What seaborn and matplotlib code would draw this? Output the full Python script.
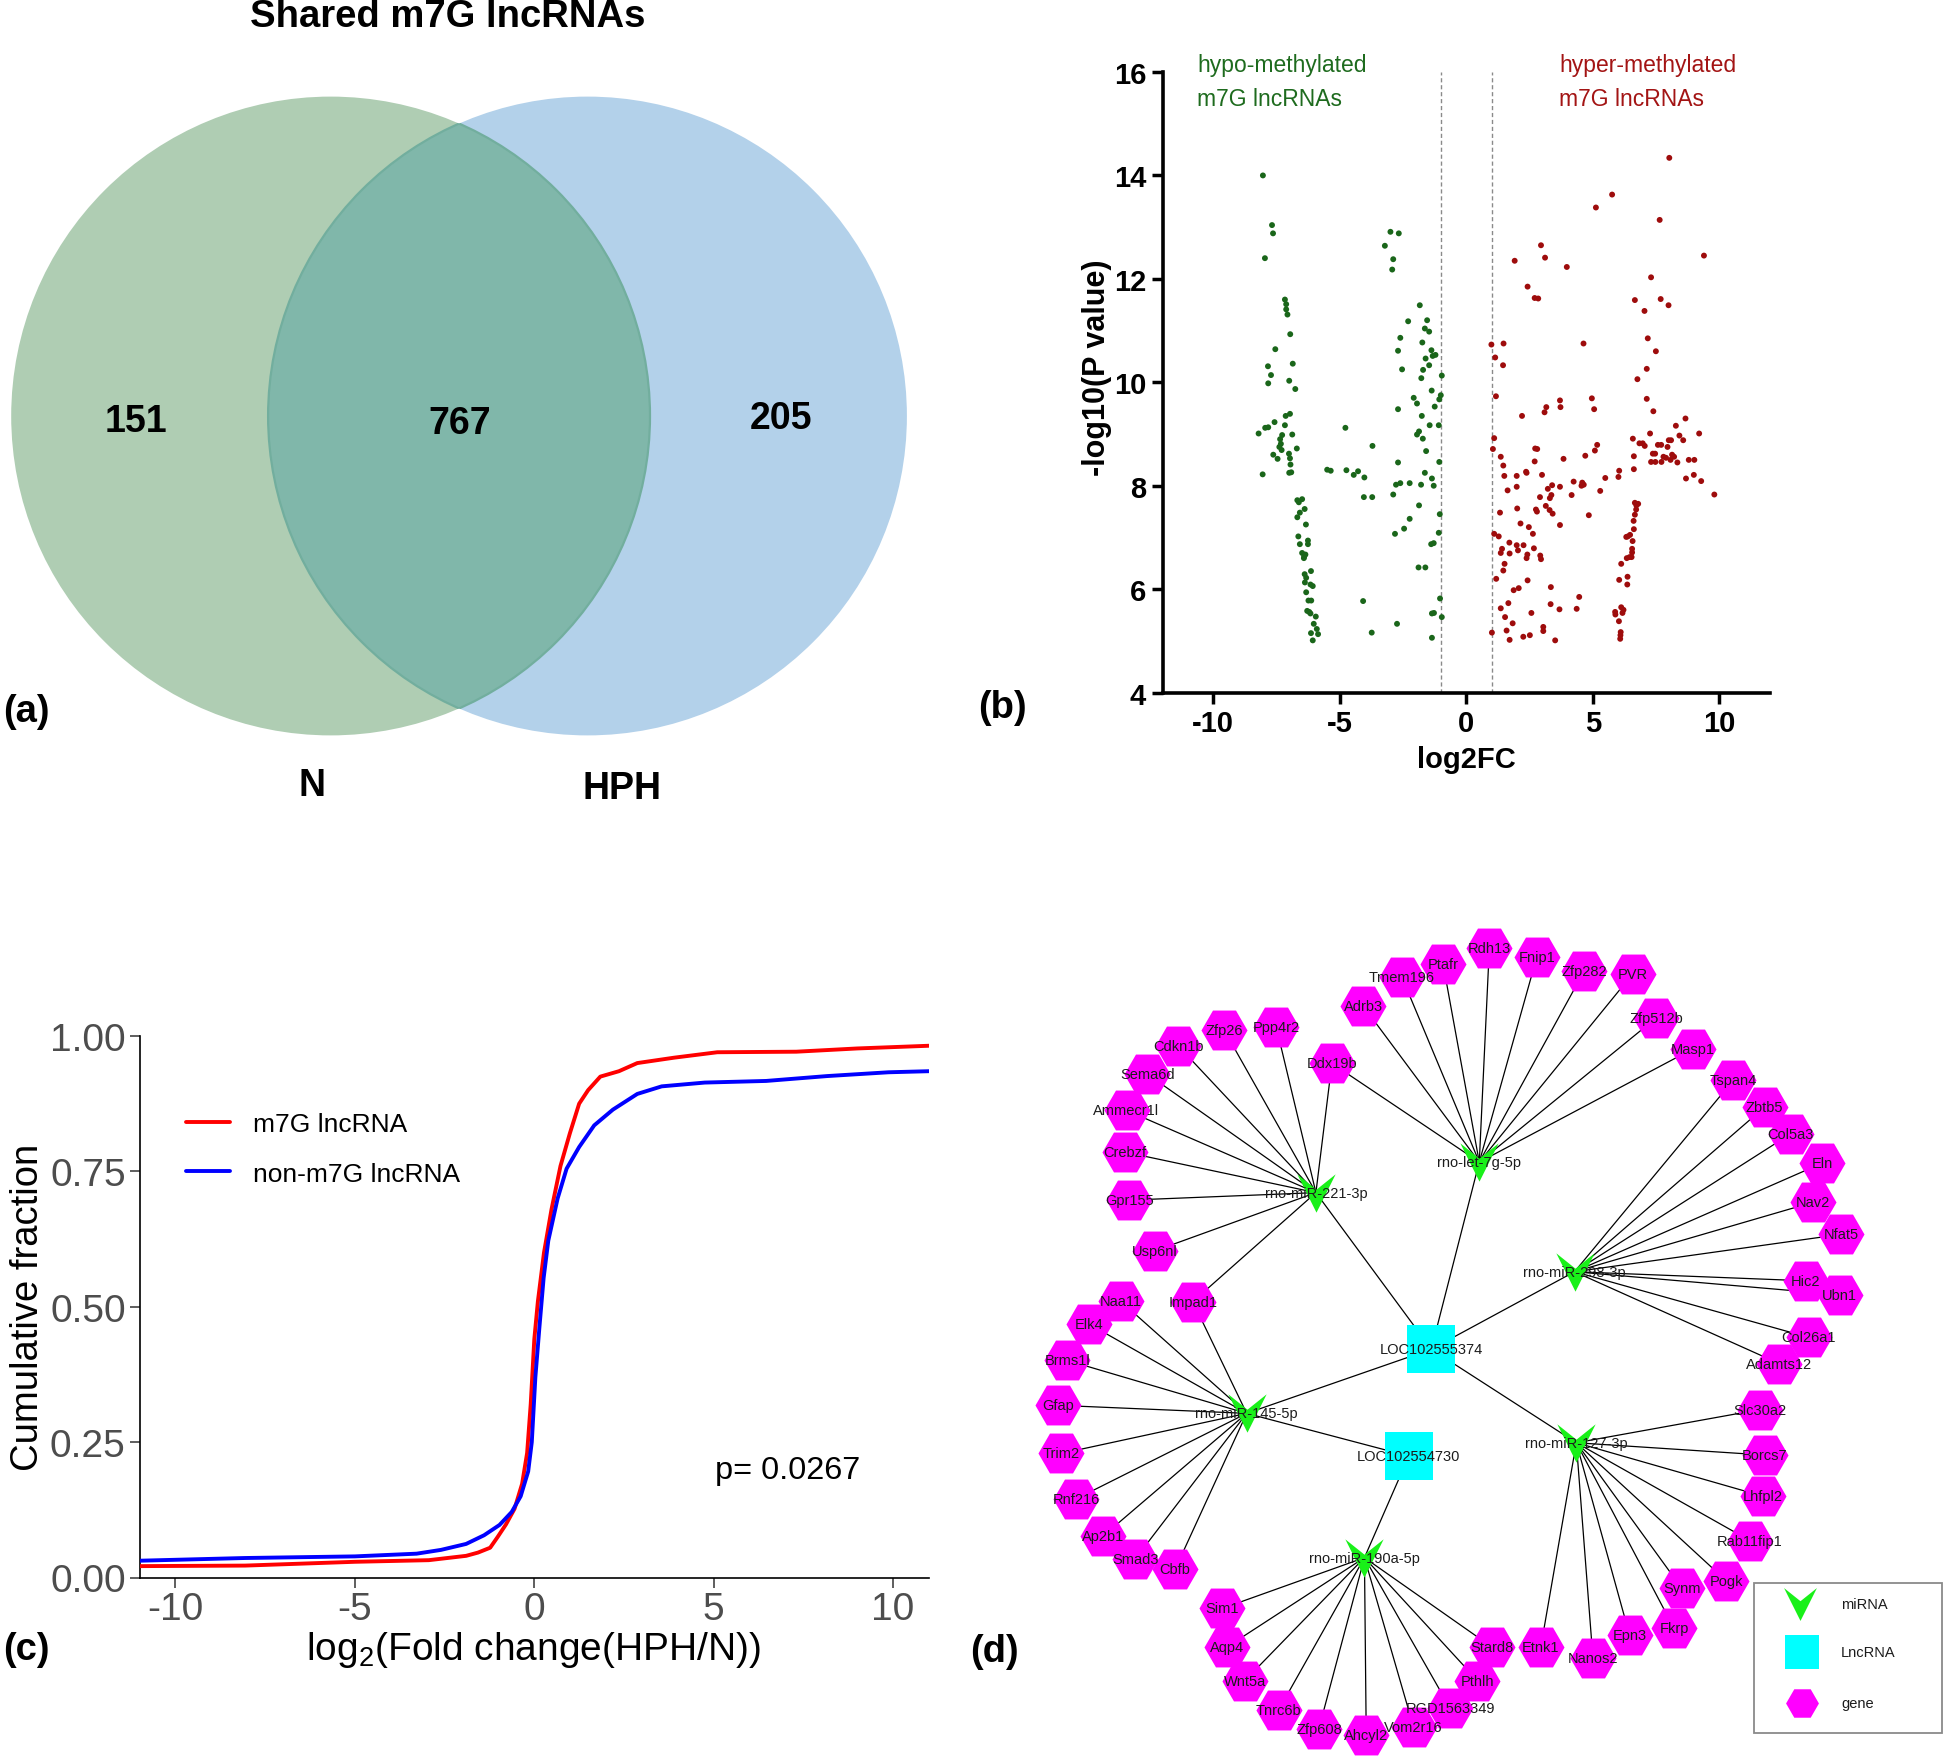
import numpy as np
import pandas as pd
import matplotlib
matplotlib.use("Agg")
import matplotlib.pyplot as plt
from matplotlib.patches import Circle, Rectangle
from matplotlib.path import Path
import seaborn as sns

# ---------------- data ----------------
# (a) Venn
venn_labels = ["N", "HPH"]
venn_counts = [151, 767, 205]          # N only, shared, HPH only
venn_title = "Shared m7G lncRNAs"

# (b) differential m7G lncRNAs
hypo_x = [-8.04, -7.68, -7.64, -7.96, -7.17, -7.12, -7.12, -7.07, -6.96, -7.55, -6.86, -7.84, -7.72, -7.83,
          -7.00, -6.76, -6.97, -7.14, -7.58, -7.17, -7.83, -7.95, -8.21, -7.28, -6.88, -7.36, -7.33, -7.39,
          -7.30, -6.70, -7.63, -7.46, -7.01, -6.97, -6.95, -6.92, -8.05, -7.00,
          -6.68, -6.49, -6.62, -6.39, -6.58, -6.68, -6.34, -6.64, -6.26, -6.58, -6.26, -6.49, -6.41, -6.36,
          -6.42, -6.14, -6.39, -6.33, -6.38, -6.16, -6.07, -6.33, -6.24, -6.13, -6.29, -6.21, -6.16, -5.95,
          -6.03, -6.14, -5.91, -5.86, -6.07,
          -5.50, -5.36, -4.78, -4.74, -4.45, -4.28, -4.03, -4.05, -3.72, -3.71, -4.08, -3.74,
          -3.22, -3.00, -2.67, -2.89, -2.93,
          -1.84, -2.30, -1.55, -1.64, -1.47, -2.61, -1.74, -2.70, -1.38, -1.22, -1.33, -1.61, -1.47, -1.71,
          -2.54, -0.97, -1.78, -1.37, -1.01, -1.07, -2.08, -1.95, -1.25, -2.70, -1.76, -1.45, -1.09, -1.87,
          -1.95, -1.72, -1.59, -1.07, -2.70, -1.64, -1.36, -2.61, -2.24, -2.78, -1.79, -1.29, -2.89, -1.87,
          -2.24, -1.05, -2.46, -2.82, -1.09, -1.29, -1.39, -1.89, -1.62, -1.04, -0.97, -1.36, -1.28, -2.74,
          -1.36]
hypo_y = [14.00, 13.04, 12.88, 12.40, 11.60, 11.51, 11.41, 11.31, 10.93, 10.64, 10.36, 10.31, 10.14, 9.98,
          10.03, 9.87, 9.39, 9.35, 9.23, 9.17, 9.13, 9.12, 9.01, 8.98, 8.99, 8.90, 8.81, 8.75,
          8.69, 8.72, 8.60, 8.52, 8.62, 8.53, 8.41, 8.26, 8.22, 8.25,
          7.72, 7.74, 7.68, 7.55, 7.48, 7.39, 7.25, 7.02, 6.94, 6.87, 6.87, 6.70, 6.63, 6.67,
          6.60, 6.35, 6.29, 6.22, 6.13, 6.09, 6.06, 5.94, 5.78, 5.78, 5.58, 5.56, 5.53, 5.47,
          5.33, 5.15, 5.23, 5.13, 5.01,
          8.31, 8.29, 9.12, 8.30, 8.21, 8.28, 8.16, 7.78, 7.78, 8.77, 5.77, 5.16,
          12.64, 12.91, 12.88, 12.38, 12.18,
          11.49, 11.18, 11.20, 11.04, 10.98, 10.86, 10.77, 10.61, 10.62, 10.53, 10.51, 10.46, 10.33, 10.24,
          10.25, 10.13, 10.08, 9.84, 9.75, 9.67, 9.70, 9.59, 9.53, 9.48, 9.35, 9.17, 9.17, 9.05,
          8.99, 8.91, 8.67, 8.46, 8.45, 8.25, 8.14, 8.05, 8.05, 8.02, 8.02, 8.00, 7.83, 7.62,
          7.36, 7.45, 7.17, 7.07, 7.09, 6.89, 6.87, 6.42, 6.42, 5.82, 5.46, 5.53, 5.54, 5.33,
          5.06]
hyper_x = [8.02, 5.76, 5.12, 7.64, 2.95, 3.11, 1.91, 3.97, 9.39, 7.30, 2.42, 2.70, 2.84, 6.66, 7.68, 7.99,
           7.04, 7.17, 0.99, 1.47, 4.63, 1.14, 7.49, 1.45, 7.13, 6.76, 1.17, 4.96, 3.70, 3.72, 3.16, 3.09,
           5.05, 7.13, 7.39, 2.20, 8.66, 8.28, 7.26, 9.20, 8.42, 8.57, 1.10, 6.58, 6.84, 6.97, 7.05, 7.57,
           7.70, 8.00, 8.09, 7.95, 1.05, 2.72, 2.80, 5.17, 5.08, 7.37, 7.46, 6.62, 4.70, 1.36, 3.84, 2.70,
           7.79, 7.89, 8.13, 8.21, 8.07, 7.30, 7.47, 7.71, 8.34, 8.79, 9.01, 1.46, 6.62, 6.04, 2.36, 2.38,
           1.50, 1.99, 2.99, 6.01, 5.49, 8.68, 8.99, 9.28, 4.24, 4.58, 4.64, 4.55, 3.39, 3.70, 1.99, 3.22,
           1.63, 5.29, 9.80, 4.16, 3.36, 2.91, 3.30, 6.66, 6.79, 6.72, 3.14, 2.01, 2.75, 2.79, 6.71, 3.29,
           3.41, 1.33, 4.84, 6.66, 6.61, 2.14, 3.70, 2.47, 6.62, 2.63, 1.10, 1.28, 6.47, 6.32, 6.38, 6.57,
           1.70, 2.26, 1.99, 2.67, 1.41, 2.04, 1.36, 1.71, 2.41, 6.55, 6.55, 6.53, 2.92, 2.95, 2.38, 6.45,
           6.34, 1.51, 6.12, 1.46, 6.37, 1.18, 6.04, 2.42, 6.36, 3.34, 2.07, 1.87, 4.46, 1.66, 3.33, 1.36,
           4.36, 3.68, 6.12, 6.21, 5.88, 5.89, 6.17, 2.57, 1.53, 6.03, 1.83, 3.04, 3.04, 1.01, 1.59, 6.10,
           6.09, 2.51, 2.25, 6.08, 1.71, 3.51]
hyper_y = [14.34, 13.63, 13.38, 13.14, 12.65, 12.41, 12.35, 12.23, 12.45, 12.03, 11.85, 11.63, 11.62, 11.59, 11.61, 11.49,
           11.38, 10.85, 10.73, 10.75, 10.75, 10.48, 10.60, 10.33, 10.26, 10.06, 9.73, 9.69, 9.65, 9.52, 9.52, 9.42,
           9.48, 9.68, 9.44, 9.35, 9.30, 9.16, 9.01, 9.01, 8.97, 8.88, 8.92, 8.91, 8.82, 8.82, 8.77, 8.79,
           8.79, 8.88, 8.88, 8.75, 8.71, 8.72, 8.71, 8.79, 8.68, 8.62, 8.62, 8.57, 8.58, 8.56, 8.52, 8.47,
           8.56, 8.54, 8.60, 8.56, 8.50, 8.46, 8.46, 8.46, 8.45, 8.50, 8.50, 8.39, 8.32, 8.29, 8.27, 8.25,
           8.19, 8.19, 8.21, 8.17, 8.15, 8.14, 8.21, 8.09, 8.08, 8.06, 8.02, 8.00, 8.01, 7.98, 7.98, 7.94,
           7.91, 7.90, 7.83, 7.82, 7.82, 7.78, 7.76, 7.67, 7.65, 7.62, 7.61, 7.56, 7.54, 7.50, 7.54, 7.53,
           7.46, 7.48, 7.43, 7.44, 7.32, 7.27, 7.24, 7.20, 7.16, 7.07, 7.07, 7.02, 7.05, 7.01, 7.02, 6.93,
           6.90, 6.85, 6.85, 6.79, 6.78, 6.75, 6.70, 6.69, 6.67, 6.78, 6.71, 6.62, 6.65, 6.58, 6.60, 6.62,
           6.60, 6.49, 6.49, 6.36, 6.24, 6.20, 6.18, 6.17, 6.09, 6.04, 6.02, 5.98, 5.85, 5.73, 5.71, 5.63,
           5.62, 5.61, 5.65, 5.60, 5.56, 5.51, 5.54, 5.54, 5.46, 5.38, 5.34, 5.27, 5.19, 5.16, 5.20, 5.17,
           5.11, 5.11, 5.08, 5.04, 5.02, 5.01]
volcano_xticks = [-10, -5, 0, 5, 10]
volcano_yticks = [4, 6, 8, 10, 12, 14, 16]
fc_cutoffs = [-1, 1]

# (c) cumulative distribution
m7g_x = [-11, -8.06, -5.0, -2.94, -1.9, -1.57, -1.23, -1.02, -0.79, -0.55, -0.34, -0.2, -0.1, 0.0, 0.1,
         0.27, 0.48, 0.73, 0.99, 1.25, 1.5, 1.84, 2.36, 2.87, 3.9, 5.1, 7.3, 9.0, 11.0]
m7g_y = [0.021, 0.022, 0.029, 0.032, 0.040, 0.046, 0.055, 0.075, 0.098, 0.127, 0.173, 0.23, 0.32, 0.44, 0.51,
         0.60, 0.68, 0.76, 0.82, 0.875, 0.90, 0.925, 0.935, 0.95, 0.96, 0.97, 0.971, 0.977, 0.982]
non_x = [-11, -8.06, -5.0, -3.28, -2.6, -1.9, -1.4, -0.97, -0.63, -0.38, -0.17, -0.07, 0.03, 0.14, 0.26,
         0.39, 0.65, 0.9, 1.25, 1.67, 2.19, 2.87, 3.55, 4.75, 6.46, 8.16, 9.87, 11.0]
non_y = [0.031, 0.036, 0.039, 0.044, 0.051, 0.062, 0.078, 0.097, 0.121, 0.15, 0.196, 0.25, 0.37, 0.46, 0.553,
         0.622, 0.70, 0.755, 0.795, 0.835, 0.864, 0.893, 0.907, 0.914, 0.917, 0.926, 0.933, 0.935]
cdf_labels = ["m7G lncRNA", "non-m7G lncRNA"]
cdf_xticks = [-10, -5, 0, 5, 10]
cdf_yticks = [0.0, 0.25, 0.5, 0.75, 1.0]
cdf_yticklabels = ["0.00", "0.25", "0.50", "0.75", "1.00"]
p_text = "p= 0.0267"

# (d) ceRNA network
lnc_links = {
    "LOC102555374": ["rno-let-7g-5p", "rno-miR-221-3p", "rno-miR-298-3p", "rno-miR-145-5p", "rno-miR-127-3p"],
    "LOC102554730": ["rno-miR-145-5p", "rno-miR-190a-5p"],
}
mirna_targets = {
    "rno-let-7g-5p": ["Adrb3", "Tmem196", "Ptafr", "Rdh13", "Fnip1", "Zfp282", "PVR", "Zfp512b", "Masp1", "Ddx19b"],
    "rno-miR-221-3p": ["Zfp26", "Ppp4r2", "Cdkn1b", "Sema6d", "Ammecr1l", "Crebzf", "Gpr155", "Usp6nl", "Ddx19b", "Impad1"],
    "rno-miR-298-3p": ["Tspan4", "Zbtb5", "Col5a3", "Eln", "Nav2", "Nfat5", "Hic2", "Ubn1", "Col26a1", "Adamts12"],
    "rno-miR-145-5p": ["Naa11", "Elk4", "Brms1l", "Gfap", "Trim2", "Rnf216", "Ap2b1", "Smad3", "Cbfb", "Impad1"],
    "rno-miR-127-3p": ["Slc30a2", "Borcs7", "Lhfpl2", "Rab11fip1", "Pogk", "Synm", "Fkrp", "Epn3", "Nanos2", "Etnk1"],
    "rno-miR-190a-5p": ["Sim1", "Aqp4", "Wnt5a", "Tnrc6b", "Zfp608", "Ahcyl2", "Vom2r16", "RGD1563349", "Pthlh", "Stard8"],
}
# network layout (layout units of the network canvas)
layout = {
    "LOC102555374": (695, 805), "LOC102554730": (657, 1005),
    "rno-let-7g-5p": (776, 455), "rno-miR-221-3p": (500, 512), "rno-miR-298-3p": (937, 660),
    "rno-miR-145-5p": (383, 925), "rno-miR-127-3p": (940, 980), "rno-miR-190a-5p": (582, 1195),
    "Adrb3": (580, 163), "Tmem196": (645, 108), "Ptafr": (715, 85), "Rdh13": (793, 55), "Fnip1": (873, 72),
    "Zfp282": (953, 98), "PVR": (1035, 103), "Zfp512b": (1075, 185), "Masp1": (1137, 243), "Ddx19b": (527, 270),
    "Zfp26": (345, 208), "Ppp4r2": (433, 202), "Cdkn1b": (267, 237), "Sema6d": (215, 290), "Ammecr1l": (180, 358),
    "Crebzf": (177, 436), "Gpr155": (185, 526), "Usp6nl": (228, 621), "Impad1": (292, 716),
    "Tspan4": (1205, 302), "Zbtb5": (1258, 352), "Col5a3": (1302, 402), "Eln": (1355, 457), "Nav2": (1340, 530),
    "Nfat5": (1388, 590), "Hic2": (1328, 677), "Ubn1": (1385, 703), "Col26a1": (1333, 783), "Adamts12": (1283, 832),
    "Naa11": (170, 715), "Elk4": (117, 758), "Brms1l": (80, 826), "Gfap": (65, 910), "Trim2": (70, 1000),
    "Rnf216": (95, 1085), "Ap2b1": (140, 1155), "Smad3": (195, 1197), "Cbfb": (262, 1217),
    "Slc30a2": (1250, 918), "Borcs7": (1258, 1003), "Lhfpl2": (1255, 1080), "Rab11fip1": (1233, 1163),
    "Pogk": (1193, 1238), "Synm": (1118, 1252), "Fkrp": (1105, 1327), "Epn3": (1030, 1340), "Nanos2": (968, 1382),
    "Etnk1": (880, 1362),
    "Sim1": (342, 1290), "Aqp4": (350, 1362), "Wnt5a": (380, 1425), "Tnrc6b": (437, 1480), "Zfp608": (505, 1515),
    "Ahcyl2": (585, 1527), "Vom2r16": (665, 1512), "RGD1563349": (727, 1477), "Pthlh": (773, 1425),
    "Stard8": (797, 1362),
}
legend_types = ["miRNA", "LncRNA", "gene"]

# ---------------- style ----------------
sns.set_theme(style="white")
plt.rcParams["font.family"] = ["Liberation Sans", "DejaVu Sans"]
plt.rcParams["mathtext.default"] = "regular"
plt.rcParams["axes.unicode_minus"] = False
plt.rcParams["text.color"] = "black"
plt.rcParams["axes.labelcolor"] = "black"

W, H = 1948, 1758
fig = plt.figure(figsize=(W / 100, H / 100), dpi=100)
fig.patch.set_facecolor("white")


def box(l, t, r, b):
    return [l / W, 1 - b / H, (r - l) / W, (b - t) / H]


# overlay (Venn + panel letters)
ov = fig.add_axes([0, 0, 1, 1])
ov.set_xlim(0, W)
ov.set_ylim(H, 0)
ov.axis("off")

c_left = Circle((330.6, 417), 319.4, facecolor="#afcdb3", edgecolor="none", zorder=1)
c_right = Circle((587.5, 417), 319.4, facecolor="#b3d1ea", edgecolor="none", zorder=1)
ov.add_patch(c_left)
ov.add_patch(c_right)
c_int = Circle((330.6, 417), 319.4, facecolor="#80b7aa", edgecolor="#72ae9e", lw=1.6, zorder=2)
ov.add_patch(c_int)
c_int.set_clip_path(c_right)
c_edge = Circle((587.5, 417), 319.4, facecolor="none", edgecolor="#72ae9e", lw=1.6, zorder=3)
ov.add_patch(c_edge)
c_edge.set_clip_path(c_left)

ov.text(448, 17, venn_title, fontsize=27.5, fontweight="bold", ha="center", va="center")
ov.text(136, 422, str(venn_counts[0]), fontsize=27, fontweight="bold", ha="center", va="center")
ov.text(460, 424, str(venn_counts[1]), fontsize=27, fontweight="bold", ha="center", va="center")
ov.text(781, 419, str(venn_counts[2]), fontsize=27, fontweight="bold", ha="center", va="center")
ov.text(312, 786, venn_labels[0], fontsize=27, fontweight="bold", ha="center", va="center")
ov.text(622, 789, venn_labels[1], fontsize=27, fontweight="bold", ha="center", va="center")

for lab, (x, y) in zip(["(a)", "(b)", "(c)", "(d)"], [(26, 712), (1002, 708), (26, 1650), (994, 1652)]):
    ov.text(x, y, lab, fontsize=27.5, fontweight="bold", ha="center", va="center")

# ---------------- (b) volcano ----------------
axb = fig.add_axes(box(1162.7, 73, 1770, 693.6))
df_b = pd.DataFrame({
    "log2FC": hypo_x + hyper_x,
    "nlp": hypo_y + hyper_y,
    "group": ["hypo"] * len(hypo_x) + ["hyper"] * len(hyper_x),
})
sns.scatterplot(data=df_b, x="log2FC", y="nlp", hue="group",
                palette={"hypo": "#1a661a", "hyper": "#9e0c0c"},
                s=18, linewidth=0, legend=False, ax=axb, zorder=3)
for c in fc_cutoffs:
    axb.axvline(c, color="#8a8a8a", lw=1.0, ls=(0, (3, 2)), zorder=1)
axb.set_xlim(-12, 12)
axb.set_ylim(4, 16)
axb.set_xticks(volcano_xticks)
axb.set_xticklabels([str(v) for v in volcano_xticks], fontweight="bold")
axb.set_yticks(volcano_yticks)
axb.set_yticklabels([str(v) for v in volcano_yticks], fontweight="bold")
axb.tick_params(axis="both", direction="out", length=8, width=2.5, labelsize=21, color="black",
                labelcolor="black", left=True, bottom=True, pad=4)
for s in ["top", "right"]:
    axb.spines[s].set_visible(False)
for s in ["left", "bottom"]:
    axb.spines[s].set_linewidth(2.6)
    axb.spines[s].set_color("black")
axb.set_xlabel("log2FC", fontsize=21, fontweight="bold")
axb.set_ylabel("-log10(P value)", fontsize=22, fontweight="bold")
axb.xaxis.set_label_coords(0.5, -0.107)
axb.xaxis.label.set_va("center")
axb.yaxis.set_label_coords(-0.1087, 0.525)
axb.yaxis.label.set_va("center")
axb.patch.set_alpha(0)
axb.text(-10.64, 16.14, "hypo-methylated", color="#1e6b1e", fontsize=16.5,
         ha="left", va="center", clip_on=False)
axb.text(-10.64, 15.48, "m7G lncRNAs", color="#1e6b1e", fontsize=16.5,
         ha="left", va="center", clip_on=False)
axb.text(3.68, 16.14, "hyper-methylated", color="#a31414", fontsize=16.5,
         ha="left", va="center", clip_on=False)
axb.text(3.68, 15.48, "m7G lncRNAs", color="#a31414", fontsize=16.5,
         ha="left", va="center", clip_on=False)

# ---------------- (c) cumulative fraction ----------------
axc = fig.add_axes(box(139.6, 1037, 929, 1578.5))
df_c = pd.DataFrame({
    "fc": m7g_x + non_x,
    "cum": m7g_y + non_y,
    "type": [cdf_labels[0]] * len(m7g_x) + [cdf_labels[1]] * len(non_x),
})
sns.lineplot(data=df_c, x="fc", y="cum", hue="type", sort=False, estimator=None,
             palette={cdf_labels[0]: "#ff0000", cdf_labels[1]: "#0000ff"},
             lw=2.8, ax=axc, zorder=3)
axc.set_xlim(-11, 11)
axc.set_ylim(0, 1.0)
axc.set_xticks(cdf_xticks)
axc.set_xticklabels([str(v) for v in cdf_xticks])
axc.set_yticks(cdf_yticks)
axc.set_yticklabels(cdf_yticklabels)
axc.tick_params(axis="both", direction="out", length=7, width=1.1, labelsize=28, color="#333333",
                labelcolor="#4d4d4d", left=True, bottom=True, pad=3)
for s in ["top", "right"]:
    axc.spines[s].set_visible(False)
for s in ["left", "bottom"]:
    axc.spines[s].set_linewidth(1.2)
    axc.spines[s].set_color("black")
axc.set_xlabel(r"log$_2$(Fold change(HPH/N))", fontsize=28)
axc.set_ylabel("Cumulative fraction", fontsize=27.5)
axc.xaxis.set_label_coords(0.4983, -0.132)
axc.xaxis.label.set_va("center")
axc.yaxis.set_label_coords(-0.1419, 0.5)
axc.yaxis.label.set_va("center")
handles, labels = axc.get_legend_handles_labels()
leg = axc.legend(handles, labels, loc="center left", bbox_to_anchor=(185.5 / W, 1 - 1150 / H),
                 bbox_transform=fig.transFigure, frameon=False, fontsize=19, handlelength=1.7,
                 handletextpad=0.85, labelspacing=0.95, borderpad=0, borderaxespad=0)
for ln in leg.get_lines():
    ln.set_linewidth(2.8)
for t in leg.get_texts():
    t.set_color("black")
axc.text(714.6, 1471, p_text, transform=ov.transData, fontsize=23.4, ha="left", va="center")
axc.patch.set_alpha(0)

# ---------------- (d) network ----------------
axd = fig.add_axes(box(1020, 920, 1948, 1758))
axd.set_xlim(0, 1568)
axd.set_ylim(1568, 0)
axd.axis("off")

for lnc, mirs in lnc_links.items():
    for m in mirs:
        axd.plot([layout[lnc][0], layout[m][0]], [layout[lnc][1], layout[m][1]], color="black", lw=0.9, zorder=1)
for m, genes in mirna_targets.items():
    for g in genes:
        axd.plot([layout[g][0], layout[m][0]], [layout[g][1], layout[m][1]], color="black", lw=0.9, zorder=1)

genes_all = []
for genes in mirna_targets.values():
    for g in genes:
        if g not in genes_all:
            genes_all.append(g)
mirnas = list(mirna_targets.keys())
lncs = list(lnc_links.keys())

v_path = Path([(-1, 1), (0, 0.2), (1, 1), (0, -1), (-1, 1)],
              [Path.MOVETO, Path.LINETO, Path.LINETO, Path.LINETO, Path.CLOSEPOLY])

sns.scatterplot(x=[layout[g][0] for g in genes_all], y=[layout[g][1] for g in genes_all],
                marker="H", s=1100, color="#ff00ff", linewidth=0, ax=axd, zorder=2)
sns.scatterplot(x=[layout[m][0] for m in mirnas], y=[layout[m][1] for m in mirnas],
                marker=v_path, s=760, color="#19f019", linewidth=0, ax=axd, zorder=3)
sns.scatterplot(x=[layout[l][0] for l in lncs], y=[layout[l][1] for l in lncs],
                marker="s", s=1200, color="#00ffff", linewidth=0, ax=axd, zorder=3)
axd.set_xlim(0, 1568)
axd.set_ylim(1568, 0)

for name in genes_all + mirnas + lncs:
    axd.text(layout[name][0], layout[name][1], name, fontsize=10.5, color="#1c1c1c",
             ha="center", va="center", zorder=5)

# legend box of the network
axd.add_patch(Rectangle((1240, 1243), 318, 280, facecolor="white", edgecolor="#8a8a8a", lw=1.3, zorder=1))
leg_y = [1282, 1372, 1467]
axd.scatter([1318], [leg_y[0]], marker=v_path, s=560, color="#19f019", linewidth=0, zorder=3)
axd.scatter([1321], [leg_y[1]], marker="s", s=620, color="#00ffff", linewidth=0, zorder=3)
axd.scatter([1321], [leg_y[2]], marker="H", s=560, color="#ff00ff", linewidth=0, zorder=3)
for t, y in zip(legend_types, leg_y):
    axd.text(1387, y, t, fontsize=10.5, color="#1c1c1c", ha="left", va="center", zorder=5)

fig.savefig("out.png", dpi=100, facecolor="white")
